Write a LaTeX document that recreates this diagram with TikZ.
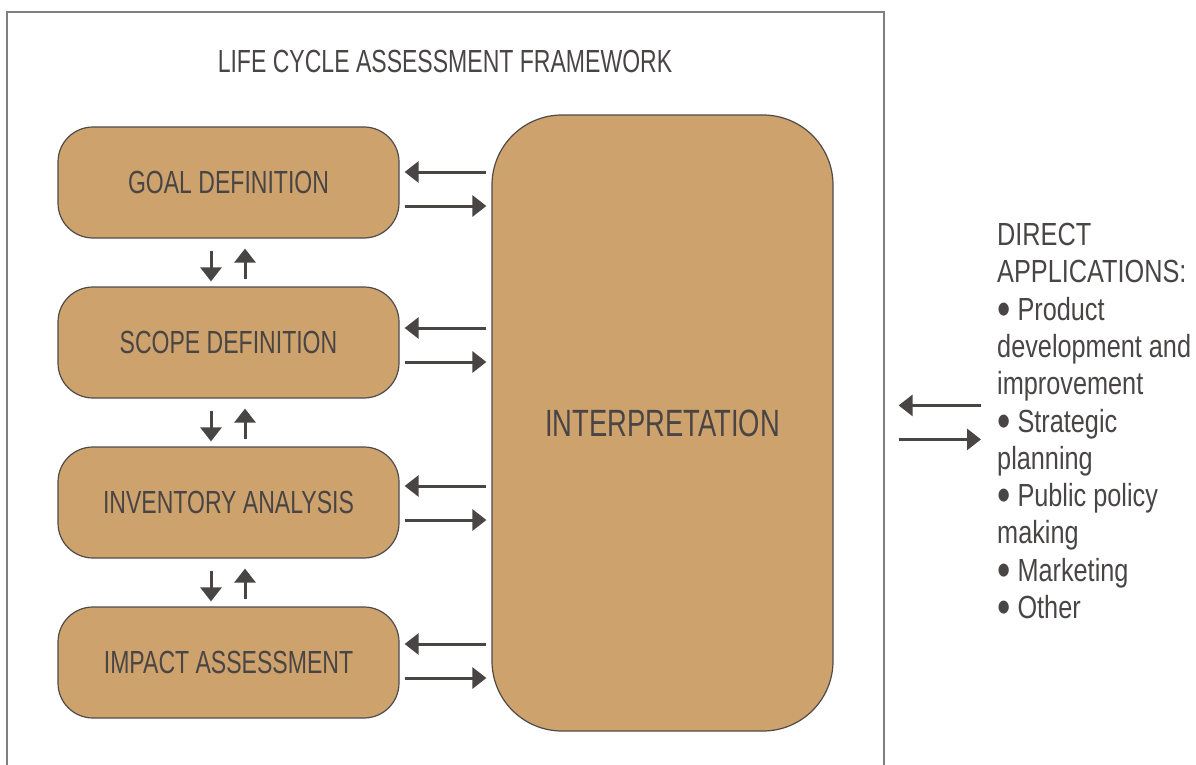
\documentclass[tikz,border=0pt]{standalone}
\usepackage{fontspec}
\setmainfont{Liberation Sans}[FakeStretch=0.72]
\newfontfamily\appsfont{Liberation Sans}[FakeStretch=0.79]
\usetikzlibrary{arrows.meta,calc}
\definecolor{boxfill}{HTML}{CDA26C}
\definecolor{boxline}{HTML}{4F4B4A}
\definecolor{txt}{HTML}{4A4545}
\definecolor{framec}{HTML}{7F7F7F}
\newcommand{\bigbul}{\raisebox{-0.16em}{\scalebox{1.5}{\textbullet}}}
\begin{document}
\begin{tikzpicture}[x=1pt,y=-1pt,
  stage/.style={draw=boxline, line width=1.2pt, fill=boxfill, rounded corners=35pt,
    minimum width=341pt, minimum height=111pt, inner sep=0pt, text=txt,
    font=\fontsize{32}{36}\selectfont},
  interbox/.style={draw=boxline, line width=1.2pt, fill=boxfill, rounded corners=70pt,
    minimum width=341pt, minimum height=616pt, inner sep=0pt, text=txt,
    font=\fontsize{38}{44}\selectfont},
  arr/.style={draw=txt, fill=txt, line width=3pt, -{Triangle[length=14pt,width=21pt]}},
  title/.style={text=txt, font=\fontsize{32}{36}\selectfont, inner sep=0pt},
  apps/.style={text=txt, font=\appsfont\fontsize{32}{37.3}\selectfont, inner sep=0pt, align=left}
]
\useasboundingbox (0,0) rectangle (1196,765);
\draw[framec, line width=1.5pt] (7,800) -- (7,12) -- (884,12) -- (884,800);
\node[title] (title) at (445,61) {LIFE CYCLE ASSESSMENT FRAMEWORK};

\node[stage] (goal) at (228.5,182.5) {GOAL DEFINITION};
\node[stage] (scope) at (228.5,342.5) {SCOPE DEFINITION};
\node[stage] (inv) at (228.5,502.5) {INVENTORY ANALYSIS};
\node[stage] (impact) at (228.5,662.5) {IMPACT ASSESSMENT};
\node[interbox] (interp) at (662.5,423) {INTERPRETATION};

\foreach \s/\o in {goal/-10.5,scope/-14.5,inv/-16.5,impact/-18.5}{
  \draw[arr] ($(interp.west |- \s.east)+(-5,\o)$) -- ($(\s.east)+(5,\o)$);
  \draw[arr] ($(\s.east)+(5,\o+34)$) -- ($(interp.west |- \s.east)+(-5,\o+34)$);
}
\foreach \a/\b in {goal/scope,scope/inv,inv/impact}{
  \draw[arr] ($(\a.south)+(-17.5,12)$) -- ($(\b.north)+(-17.5,-5)$);
  \draw[arr] ($(\b.north)+(16.5,-7)$) -- ($(\a.south)+(16.5,10)$);
}

\node[apps, anchor=north west] (apps) at (997,223) {DIRECT\\APPLICATIONS:\\\bigbul\ Product\\development and\\improvement\\\bigbul\ Strategic\\planning\\\bigbul\ Public policy\\making\\\bigbul\ Marketing\\\bigbul\ Other};
\coordinate (ext) at (981,0);
\draw[arr] ($(ext |- apps.west)+(0,-18)$) -- ($(interp.east |- apps.west)+(65,-18)$);
\draw[arr] ($(interp.east |- apps.west)+(65,16)$) -- ($(ext |- apps.west)+(0,16)$);
\end{tikzpicture}
\end{document}
